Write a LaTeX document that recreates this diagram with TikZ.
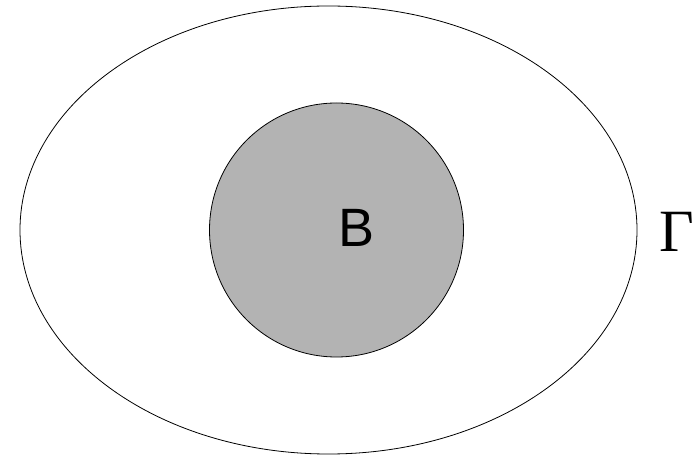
\documentclass[tikz,border=0pt]{standalone}
\usepackage{fontspec}
\setmainfont{Liberation Serif}
\setsansfont{Liberation Sans}
\begin{document}
\begin{tikzpicture}[x=1pt,y=1pt,
  outline/.style={draw=black,line width=0.8pt},
  label/.style={inner sep=0pt,anchor=center}]
\useasboundingbox (0,0) rectangle (698,455);
\draw[outline] (328.5,225) ellipse [x radius=308.5, y radius=224];
\node[outline,circle,fill={rgb,255:red,179;green,179;blue,179},minimum size=254pt,inner sep=0pt] (ball) at (336.5,225) {};
\node[label,font={\sffamily\fontsize{54}{54}\selectfont}] (b) at (357,227.5) {B};
\node[label,font={\rmfamily\fontsize{60}{60}\selectfont}] (gamma) at (676.5,223.5) {Γ};
\end{tikzpicture}
\end{document}
